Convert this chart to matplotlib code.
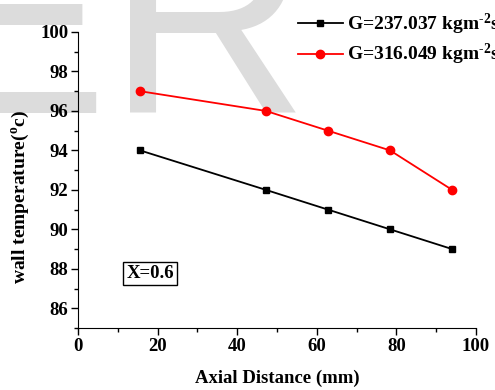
import matplotlib.pyplot as plt
from matplotlib.ticker import MultipleLocator

# data
axial = [15.6, 47.2, 62.8, 78.4, 94.0]
temp_g237 = [94, 92, 91, 90, 89]
temp_g316 = [97, 96, 95, 94, 92]
labels = [r'G=237.037 kgm$^{\text{-2}}$s$^{\text{-1}}$',
          r'G=316.049 kgm$^{\text{-2}}$s$^{\text{-1}}$']

plt.rcParams['font.family'] = 'Liberation Serif'
plt.rcParams['font.weight'] = 'bold'
plt.rcParams['mathtext.fontset'] = 'custom'
plt.rcParams['mathtext.rm'] = 'Liberation Serif:bold'
plt.rcParams['mathtext.bf'] = 'Liberation Serif:bold'
plt.rcParams['mathtext.it'] = 'Liberation Serif:bold'
plt.rcParams['mathtext.default'] = 'rm'

fig = plt.figure(figsize=(4.95, 3.9), dpi=100)

# faint watermark behind the plot
fig.text(-79 / 495, 1 - 113 / 390, 'ER', fontsize=201, family='Liberation Sans',
         fontweight='normal', color='#dcdcdc', ha='left', va='baseline', zorder=0)

ax = fig.add_axes([78 / 495, 62 / 390, 398 / 495, 296 / 390])
ax.set_zorder(2)
ax.patch.set_alpha(0)

ax.plot(axial, temp_g237, color='black', marker='s', markersize=5, lw=1.3, label=labels[0])
ax.plot(axial, temp_g316, color='red', marker='o', markersize=6, lw=1.3, label=labels[1])

ax.set_xlim(0, 100)
ax.set_ylim(85, 100)
ax.xaxis.set_major_locator(MultipleLocator(20))
ax.xaxis.set_minor_locator(MultipleLocator(10))
ax.yaxis.set_minor_locator(MultipleLocator(1))
ax.set_yticks([86, 88, 90, 92, 94, 96, 98, 100])

for s in ['top', 'right']:
    ax.spines[s].set_visible(False)
ax.tick_params(which='major', length=5, width=1, labelsize=13.5, pad=2)
ax.tick_params(which='minor', length=3, width=1)
for lab in ax.get_xticklabels() + ax.get_yticklabels():
    lab.set_fontweight('bold')

ax.set_xlabel('Axial Distance (mm)', fontsize=13.5, fontweight='bold')
ax.xaxis.set_label_coords(0.5, -0.142)
ax.set_ylabel(r'wall temperature($^{o}$c)', fontsize=14, fontweight='bold')
ax.yaxis.set_label_coords(-0.118, 0.443)

ax.text(18.1, 87.75, 'X=0.6', fontsize=13.5, fontweight='bold', ha='center', va='center',
        bbox=dict(boxstyle='square,pad=0.15', fc='white', ec='black', lw=1))

leg = fig.legend(loc='upper left', bbox_to_anchor=(298 / 495, 1 - 12 / 390), frameon=False,
                 fontsize=14, handlelength=2.3, handletextpad=0.2, labelspacing=0.25,
                 borderaxespad=0, borderpad=0)
leg.set_zorder(3)

fig.savefig('out.png', dpi=100)
